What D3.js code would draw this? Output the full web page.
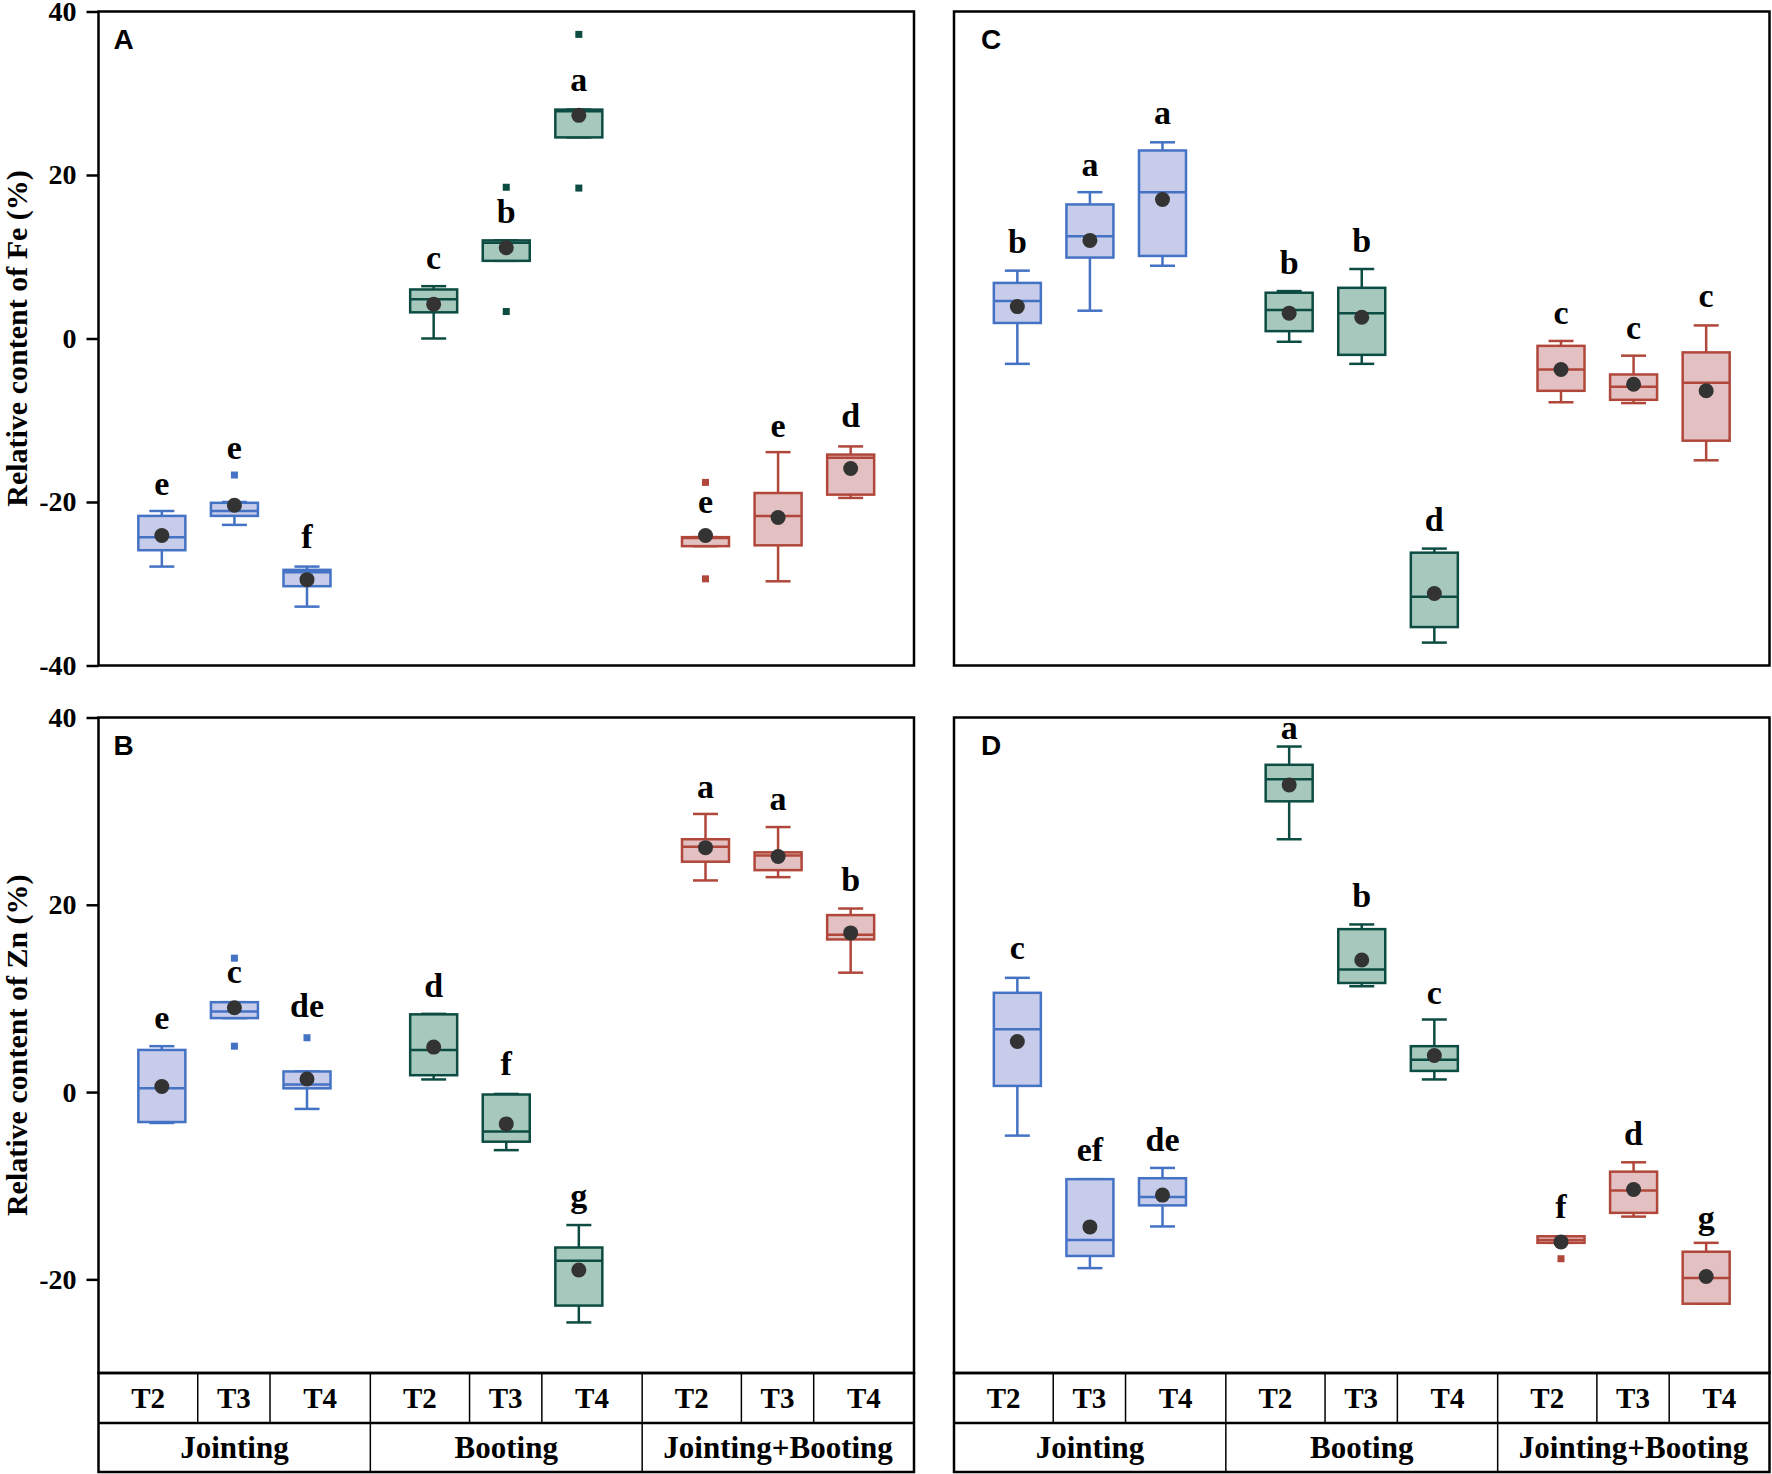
<!DOCTYPE html>
<html>
<head>
<meta charset="utf-8">
<title>Relative content of Fe and Zn</title>
<script src="https://d3js.org/d3.v7.min.js"></script>
<style>
    body { margin: 0; background: #fff; }
    text { font-family: "Times New Roman", "Liberation Serif", serif; font-weight: bold; fill: #000; }
    .panel-tag { font-family: Arial, "Liberation Sans", sans-serif; }
</style>
</head>
<body>
<svg id="chart" width="1772" height="1474"></svg>
<script>
// categorias
const stages = ["Jointing", "Booting", "Jointing+Booting"];
const treatments = ["T2", "T3", "T4"];

// cajas: [bigote inferior, Q1, mediana, Q3, bigote superior]
const boxA = [[-27.9,-25.9,-24.3,-21.7,-21.1],[-22.8,-21.7,-21.1,-20.1,-20.0],[-32.8,-30.3,-28.6,-28.3,-27.9],
              [0.0,3.2,4.8,6.0,6.4],[9.5,9.5,11.7,12.0,12.0],[24.6,24.6,27.8,28.0,28.0],
              [-25.4,-25.4,-24.4,-24.3,-24.3],[-29.7,-25.3,-21.7,-18.9,-13.9],[-19.5,-19.1,-14.6,-14.2,-13.2]];
const meanA = [-24.1,-20.4,-29.5, 4.2,11.1,27.3, -24.1,-21.9,-15.9];
const outA = [[],[-16.7],[], [],[18.5,3.3],[37.2,18.4], [-17.6,-29.4],[],[]];
const letA = ["e","e","f","c","b","a","e","e","d"];
const letYA = [-19.1,-14.8,-25.6, 8.5,14.1,30.3, -21.4,-12.1,-10.8];

const boxB = [[-3.3,-3.2,0.4,4.5,4.9],[7.9,7.9,8.6,9.6,9.6],[-1.8,0.4,0.8,2.2,2.2],
              [1.35,1.8,4.5,8.3,8.35],[-6.2,-5.3,-4.2,-0.26,-0.2],[-24.6,-22.8,-18.0,-16.6,-14.2],
              [22.6,24.6,26.2,27.0,29.7],[22.95,23.7,25.25,25.6,28.3],[12.75,16.3,16.8,18.9,19.6]];
const meanB = [0.6,9.0,1.4, 4.8,-3.4,-19.0, 26.1,25.15,17.0];
const outB = [[],[14.3,4.9],[5.8], [],[],[], [],[],[]];
const letB = ["e","c","de","d","f","g","a","a","b"];
const letYB = [6.7,11.65,8.0, 10.1,1.8,-12.3, 31.4,30.1,21.45];

const boxC = [[-3.1,1.9,4.6,6.8,8.3],[3.4,9.9,12.5,16.4,17.9],[8.9,10.1,17.9,23.0,24.0],
              [-0.4,0.9,3.5,5.6,5.8],[-3.1,-2.0,3.1,6.2,8.5],[-37.2,-35.3,-31.6,-26.2,-25.7],
              [-7.8,-6.4,-3.8,-0.9,-0.3],[-7.9,-7.5,-5.9,-4.4,-2.1],[-14.9,-12.5,-5.4,-1.7,1.6]];
const meanC = [3.9,12.0,17.0, 3.1,2.6,-31.2, -3.8,-5.6,-6.4];
const outC = [[],[],[], [],[],[], [],[],[]];
const letC = ["b","a","a","b","b","d","c","c","c"];
const letYC = [10.4,19.9,26.2, 7.9,10.6,-23.6, 1.8,0.0,3.8];

const boxD = [[-4.65,0.66,6.7,10.6,12.2],[-18.8,-17.5,-15.8,-9.3,-9.3],[-14.35,-12.1,-11.2,-9.2,-8.1],
              [27.0,31.05,33.4,34.95,36.9],[11.3,11.65,13.1,17.4,17.9],[1.35,2.26,3.45,4.9,7.75],
              [-16.1,-16.1,-15.8,-15.4,-15.4],[-13.3,-12.9,-10.5,-8.5,-7.5],[-22.6,-22.6,-19.85,-17.05,-16.1]];
const meanD = [5.4,-14.4,-11.0, 32.8,14.1,3.9, -16.0,-10.4,-19.7];
const outD = [[],[],[], [],[],[], [-17.8],[],[]];
const letD = ["c","ef","de","a","b","c","f","d","g"];
const letYD = [14.2,-7.35,-6.3, 37.7,19.75,9.45, -13.4,-5.65,-14.6];

const ticksTop = [-40, -20, 0, 20, 40];
const ticksBottom = [-20, 0, 20, 40];

// colores por etapa
const strokeCol = {"Jointing": "#4472c4", "Booting": "#0d4c42", "Jointing+Booting": "#b0473a"};
const fillCol = {"Jointing": "#c6cce9", "Booting": "#a6c8bd", "Jointing+Booting": "#e3c1c2"};

const svg = d3.select("#chart");

const cols = [[98.5, 914], [954, 1769.5]];
const rows = [
    {y0: 11.5, y1: 665.5, domain: [-40, 40], ticks: ticksTop, title: "Relative content of Fe (%)"},
    {y0: 717.5, y1: 1373, domain: [-30, 40], ticks: ticksBottom, title: "Relative content of Zn (%)"}
];
const tableRow1 = [1373, 1423];
const tableRow2 = [1423, 1472];

const panels = [
    {tag: "A", col: 0, row: 0, box: boxA, mean: meanA, out: outA, let: letA, letY: letYA},
    {tag: "B", col: 0, row: 1, box: boxB, mean: meanB, out: outB, let: letB, letY: letYB},
    {tag: "C", col: 1, row: 0, box: boxC, mean: meanC, out: outC, let: letC, letY: letYC},
    {tag: "D", col: 1, row: 1, box: boxD, mean: meanD, out: outD, let: letD, letY: letYD}
];

const boxW = 47, capW = 25;

panels.forEach(p => {
    const [x0, x1] = cols[p.col];
    const r = rows[p.row];
    const y = d3.scaleLinear().domain(r.domain).range([r.y1, r.y0]);
    const xg = d3.scaleBand().domain(stages).range([x0, x1]);
    const bw = xg.bandwidth();
    const xt = d3.scalePoint().domain(treatments).range([bw * 0.233, bw * 0.767]);

    const items = [];
    stages.forEach((s, gi) => treatments.forEach((t, ti) => {
        const k = gi * 3 + ti;
        items.push({stage: s, tr: t, cx: xg(s) + xt(t), b: p.box[k], mean: p.mean[k],
                    out: p.out[k], letter: p.let[k], ly: p.letY[k]});
    }));

    const g = svg.append("g");

    // bigotes, caja, mediana, atipicos, media y letra
    items.forEach(d => {
        const c = strokeCol[d.stage];
        g.append("line").attr("x1", d.cx).attr("x2", d.cx).attr("y1", y(d.b[0])).attr("y2", y(d.b[4]))
            .attr("stroke", c).attr("stroke-width", 2.5);
        [d.b[0], d.b[4]].forEach(v => {
            g.append("line").attr("x1", d.cx - capW / 2).attr("x2", d.cx + capW / 2)
                .attr("y1", y(v)).attr("y2", y(v)).attr("stroke", c).attr("stroke-width", 2.5);
        });
        g.append("rect").attr("x", d.cx - boxW / 2).attr("width", boxW)
            .attr("y", y(d.b[3])).attr("height", Math.max(1, y(d.b[1]) - y(d.b[3])))
            .attr("fill", fillCol[d.stage]).attr("stroke", c).attr("stroke-width", 2.5);
        g.append("line").attr("x1", d.cx - boxW / 2).attr("x2", d.cx + boxW / 2)
            .attr("y1", y(d.b[2])).attr("y2", y(d.b[2])).attr("stroke", c).attr("stroke-width", 2.5);
        d.out.forEach(v => {
            g.append("rect").attr("x", d.cx - 3.5).attr("y", y(v) - 3.5).attr("width", 7).attr("height", 7)
                .attr("fill", c);
        });
        g.append("circle").attr("cx", d.cx).attr("cy", y(d.mean)).attr("r", 7.5).attr("fill", "#333");
        g.append("text").attr("x", d.cx).attr("y", y(d.ly)).attr("text-anchor", "middle")
            .attr("font-size", 34).text(d.letter);
    });

    // marco
    svg.append("rect").attr("x", x0).attr("y", r.y0).attr("width", x1 - x0).attr("height", r.y1 - r.y0)
        .attr("fill", "none").attr("stroke", "#000").attr("stroke-width", 2.5);

    svg.append("text").attr("class", "panel-tag").attr("x", x0 + (p.col === 0 ? 15 : 27)).attr("y", r.y0 + 37)
        .attr("font-size", 28).text(p.tag);

    // eje y solo en la columna izquierda
    if (p.col === 0) {
        const ax = svg.append("g").attr("transform", `translate(${x0},0)`)
            .call(d3.axisLeft(y).tickValues(r.ticks).tickSize(12).tickPadding(10).tickFormat(d => String(d)));
        ax.select(".domain").remove();
        ax.selectAll(".tick line").attr("stroke", "#000").attr("stroke-width", 2.5);
        ax.selectAll(".tick text").attr("font-size", 28).attr("font-family", null).attr("fill", "#000");
        svg.append("text").attr("transform", `translate(27,${(r.y0 + r.y1) / 2}) rotate(-90)`)
            .attr("text-anchor", "middle").attr("font-size", 30).text(r.title);
    }

    // tabla de categorias bajo los paneles inferiores
    if (p.row === 1) {
        const t = svg.append("g");
        const fr = [0, 0.365, 0.631, 1];
        stages.forEach(s => {
            const gx = xg(s);
            [fr[1], fr[2]].forEach(f => {
                t.append("line").attr("x1", gx + bw * f).attr("x2", gx + bw * f)
                    .attr("y1", tableRow1[0]).attr("y2", tableRow1[1]).attr("stroke", "#000").attr("stroke-width", 1.5);
            });
            treatments.forEach((tr, i) => {
                t.append("text").attr("x", gx + bw * (fr[i] + fr[i + 1]) / 2)
                    .attr("y", (tableRow1[0] + tableRow1[1]) / 2 + 10).attr("text-anchor", "middle")
                    .attr("font-size", 29).text(tr);
            });
            t.append("text").attr("x", gx + bw / 2).attr("y", (tableRow2[0] + tableRow2[1]) / 2 + 10)
                .attr("text-anchor", "middle").attr("font-size", 31).text(s);
        });
        stages.slice(1).forEach(s => {
            t.append("line").attr("x1", xg(s)).attr("x2", xg(s)).attr("y1", tableRow1[0]).attr("y2", tableRow2[1])
                .attr("stroke", "#000").attr("stroke-width", 1.5);
        });
        t.append("line").attr("x1", x0).attr("x2", x1).attr("y1", tableRow2[0]).attr("y2", tableRow2[0])
            .attr("stroke", "#000").attr("stroke-width", 2.5);
        t.append("rect").attr("x", x0).attr("y", tableRow1[0]).attr("width", x1 - x0)
            .attr("height", tableRow2[1] - tableRow1[0]).attr("fill", "none").attr("stroke", "#000").attr("stroke-width", 2.5);
    }
});
</script>
</body>
</html>
